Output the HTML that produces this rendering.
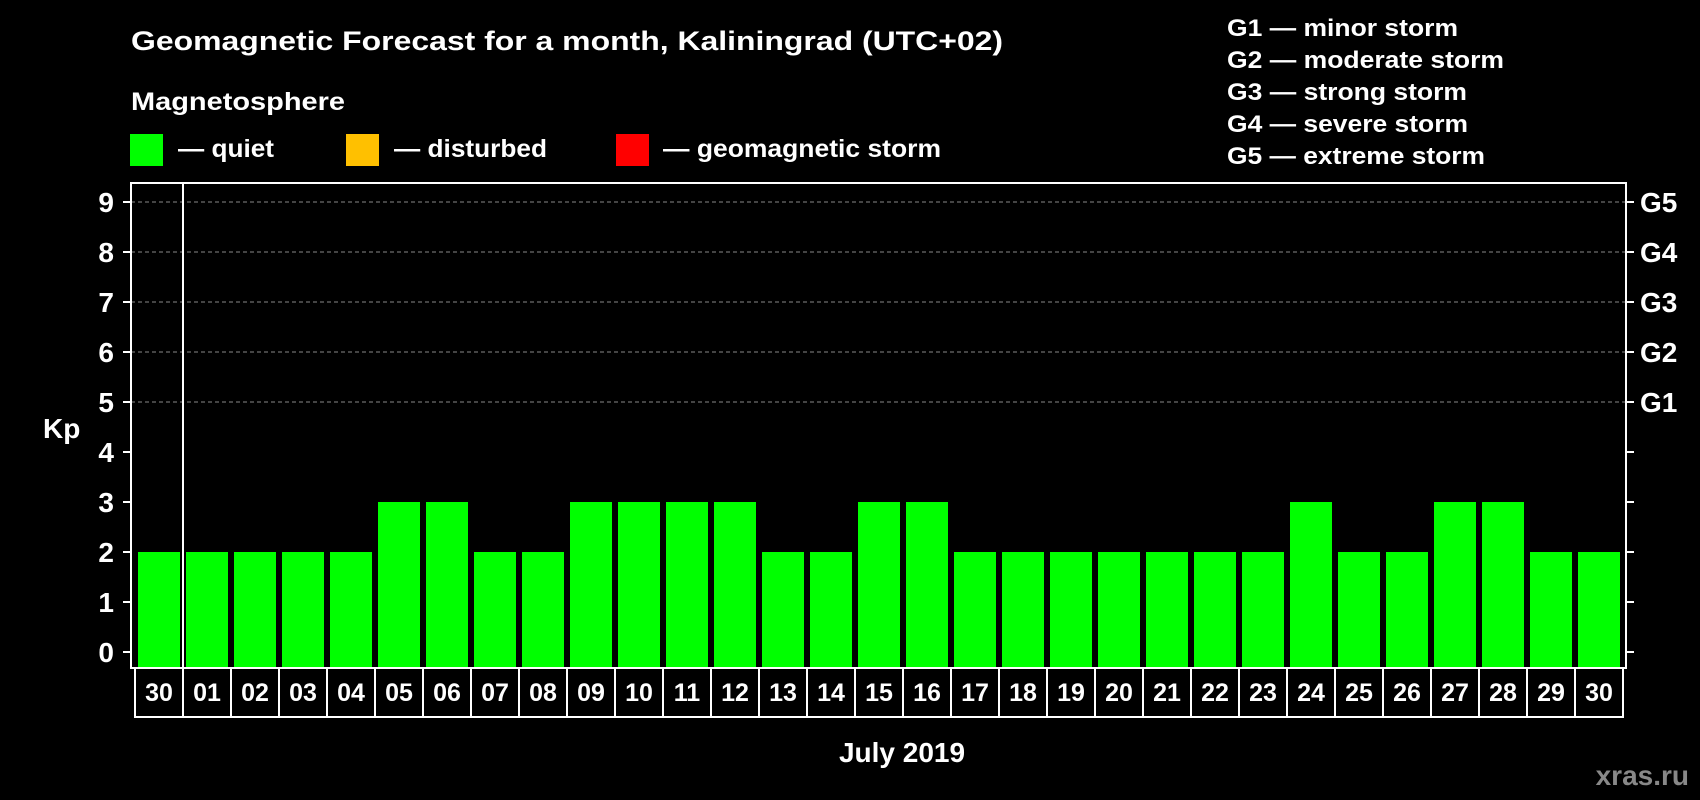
<!DOCTYPE html>
<html><head><meta charset="utf-8"><style>
html,body{margin:0;padding:0;background:#000;}
svg{display:block;font-family:"Liberation Sans",Arial,sans-serif;font-weight:bold;}
</style></head><body>
<svg id="chart" width="1700" height="800" viewBox="0 0 1700 800">
<rect width="1700" height="800" fill="#000"/>
<text x="131" y="50" fill="#fff" font-size="27" textLength="872" lengthAdjust="spacingAndGlyphs">Geomagnetic Forecast for a month, Kaliningrad (UTC+02)</text>
<text x="131" y="110" fill="#fff" font-size="25" textLength="214" lengthAdjust="spacingAndGlyphs">Magnetosphere</text>
<rect x="130" y="134" width="33" height="32" fill="#00ff00"/>
<text x="178" y="157" fill="#fff" font-size="25" textLength="96" lengthAdjust="spacingAndGlyphs">— quiet</text>
<rect x="346" y="134" width="33" height="32" fill="#ffc000"/>
<text x="394" y="157" fill="#fff" font-size="25" textLength="153" lengthAdjust="spacingAndGlyphs">— disturbed</text>
<rect x="616" y="134" width="33" height="32" fill="#ff0000"/>
<text x="663" y="157" fill="#fff" font-size="25" textLength="278" lengthAdjust="spacingAndGlyphs">— geomagnetic storm</text>
<g fill="#fff" font-size="24">
<text x="1227" y="36" textLength="231" lengthAdjust="spacingAndGlyphs">G1 — minor storm</text>
<text x="1227" y="68" textLength="277" lengthAdjust="spacingAndGlyphs">G2 — moderate storm</text>
<text x="1227" y="100" textLength="240" lengthAdjust="spacingAndGlyphs">G3 — strong storm</text>
<text x="1227" y="132" textLength="241" lengthAdjust="spacingAndGlyphs">G4 — severe storm</text>
<text x="1227" y="164" textLength="258" lengthAdjust="spacingAndGlyphs">G5 — extreme storm</text>
</g>
<text x="43" y="438" fill="#fff" font-size="28">Kp</text>
<text x="902" y="762" fill="#fff" font-size="28" text-anchor="middle">July 2019</text>
<text x="1689" y="785" fill="#888" font-size="28" text-anchor="end">xras.ru</text>
<g id="plot"></g>
</svg>
<script>
const categories = ["30","01","02","03","04","05","06","07","08","09","10","11","12","13","14","15","16","17","18","19","20","21","22","23","24","25","26","27","28","29","30"];
const kpValues = [2,2,2,2,2,3,3,2,2,3,3,3,3,2,2,3,3,2,2,2,2,2,2,2,3,2,2,3,3,2,2];
const yTicks = [0,1,2,3,4,5,6,7,8,9];
const gLabels = ["G1","G2","G3","G4","G5"];
const gLevels = [5,6,7,8,9];

const NS = "http://www.w3.org/2000/svg";
const plot = document.getElementById("plot");
const L = 131, R = 1626, T = 183, B = 668;
const y0 = 652, unit = 50;
const x0 = 135, step = 48, barW = 42;
function yScale(v){ return y0 - v*unit; }
function xScale(i){ return x0 + i*step; }
function mk(tag, attrs){ const e = document.createElementNS(NS, tag); for (const k in attrs) e.setAttribute(k, attrs[k]); plot.appendChild(e); return e; }

// grid
gLevels.forEach(function(v){
  const g = mk("line",{x1:L,x2:R,y1:yScale(v),y2:yScale(v),stroke:"#888","stroke-width":1,"stroke-dasharray":"4,3"});
  
  
});
// bars
kpValues.forEach(function(v,i){
  const c = v >= 5 ? "#ff0000" : (v >= 4 ? "#ffc000" : "#00ff00");
  const b = mk("rect",{x:xScale(i)+3,y:yScale(v),width:barW,height:y0-yScale(v)+16,fill:c});
  
  
});
// frame
const fr = mk("rect",{x:L,y:T,width:R-L,height:B-T,fill:"none",stroke:"#fff","stroke-width":2});


const sep = mk("line",{x1:183,x2:183,y1:T,y2:B,stroke:"#fff","stroke-width":2});


// y ticks
yTicks.forEach(function(v){
  const t = mk("line",{x1:L-8,x2:L,y1:yScale(v),y2:yScale(v),stroke:"#fff","stroke-width":2});
  
  
  const t2 = mk("line",{x1:R,x2:R+8,y1:yScale(v),y2:yScale(v),stroke:"#fff","stroke-width":2});
  
  
  const l = mk("text",{x:114,y:yScale(v)+10,fill:"#fff","font-size":28,"text-anchor":"end"});
  l.textContent = v;
  
  
});
gLabels.forEach(function(g,i){
  const l = mk("text",{x:1640,y:yScale(gLevels[i])+10,fill:"#fff","font-size":28});
  l.textContent = g;
  
  
});
// date boxes
categories.forEach(function(c,i){
  const r = mk("rect",{x:xScale(i),y:B,width:step,height:49,fill:"none",stroke:"#fff","stroke-width":2});
  
  
  const t = mk("text",{x:xScale(i)+step/2,y:701,fill:"#fff","font-size":25,"text-anchor":"middle"});
  t.textContent = c;
  
  
});
</script>
</body></html>
